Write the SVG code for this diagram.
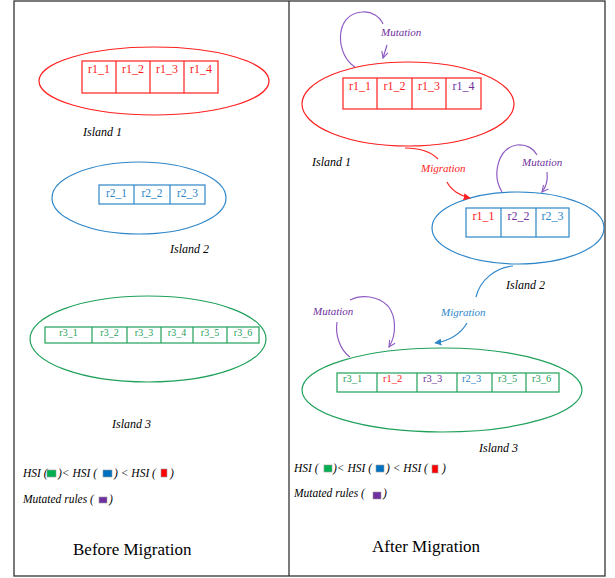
<svg xmlns="http://www.w3.org/2000/svg" width="615" height="578" viewBox="0 0 615 578">
<defs>
<style>
text{font-family:'Liberation Serif','Times New Roman','DejaVu Serif',serif}
.i{font-style:italic}
.red{fill:#ff1a1a}.blue{fill:#2e86c8}.green{fill:#1fa15a}.purple{fill:#7030a0}
.cr{fill:none;stroke:#ff2020;stroke-width:1.2}
.cb{fill:none;stroke:#2e86c8;stroke-width:1.2}
.cg{fill:none;stroke:#1fa15a;stroke-width:1.2}
.mut{fill:none;stroke:#8f5cc4;stroke-width:1.2}
.sq{stroke:#999;stroke-width:0.6}
</style>
<marker id="mv" viewBox="0 0 10 10" refX="9" refY="5" markerWidth="8" markerHeight="8" orient="auto" markerUnits="userSpaceOnUse"><path d="M1,1 L9,5 L1,9" fill="none" stroke="#8f5cc4" stroke-width="1.4"/></marker>
<marker id="ar" viewBox="0 0 10 10" refX="9" refY="5" markerWidth="7" markerHeight="7" orient="auto" markerUnits="userSpaceOnUse"><path d="M0,0 L10,5 L0,10 z" fill="#ff2020"/></marker>
<marker id="ab" viewBox="0 0 10 10" refX="9" refY="5" markerWidth="7" markerHeight="7" orient="auto" markerUnits="userSpaceOnUse"><path d="M0,0 L10,5 L0,10 z" fill="#2e86c8"/></marker>
</defs>
<rect width="615" height="578" fill="#fff"/>
<g id="frame" fill="none" stroke="#333" stroke-width="1.3">
<rect x="14" y="1" width="591" height="575"/>
<line x1="289" y1="1" x2="289" y2="576"/>
</g>

<g id="b-island1">
<ellipse cx="154" cy="81" rx="115" ry="34" class="cr"/>
<rect x="82" y="61" width="136" height="32" class="cr"/>
<path d="M116,61V93M150,61V93M184,61V93" class="cr"/>
<g class="red" font-size="12" text-anchor="middle">
<text x="99" y="73">r1_1</text><text x="133" y="73">r1_2</text><text x="167" y="73">r1_3</text><text x="201" y="73">r1_4</text>
</g>
<text x="83" y="136" class="i" font-size="12">Island 1</text>
</g>
<g id="b-island2">
<ellipse cx="139" cy="198" rx="87" ry="36" class="cb"/>
<rect x="99" y="185" width="106" height="19" class="cb"/>
<path d="M134,185V204M170,185V204" class="cb"/>
<g class="blue" font-size="11.5" text-anchor="middle">
<text x="116.5" y="197">r2_1</text><text x="152" y="197">r2_2</text><text x="187.5" y="197">r2_3</text>
</g>
<text x="170" y="253" class="i" font-size="12">Island 2</text>
</g>
<g id="b-island3">
<ellipse cx="148" cy="339" rx="118" ry="43" class="cg"/>
<rect x="45" y="327" width="214" height="16" class="cg"/>
<path d="M92,327V343M127,327V343M161,327V343M193,327V343M227,327V343" class="cg"/>
<g class="green" font-size="10" text-anchor="middle">
<text x="68.5" y="336">r3_1</text><text x="109.5" y="336">r3_2</text><text x="144" y="336">r3_3</text><text x="177" y="336">r3_4</text><text x="210" y="336">r3_5</text><text x="243" y="336">r3_6</text>
</g>
<text x="112" y="428" class="i" font-size="12">Island 3</text>
</g>
<g id="b-legend" class="i" font-size="11.5">
<text x="23" y="477">HSI (</text>
<rect x="47" y="470" width="9" height="7" fill="#00b050" class="sq"/>
<text x="58" y="477">)&lt; HSI (</text>
<rect x="103" y="470" width="9" height="7" fill="#0070c0" class="sq"/>
<text x="114" y="477">) &lt; HSI (</text>
<rect x="161" y="469" width="6" height="8" fill="#ff0000" class="sq"/>
<text x="170" y="477">)</text>
<text x="23" y="503">Mutated rules (</text>
<rect x="99" y="497" width="8" height="6" fill="#7030a0" class="sq"/>
<text x="109" y="503">)</text>
</g>
<text id="b-title" x="73" y="555" font-size="17">Before Migration</text>

<g id="a-island1">
<ellipse cx="408" cy="104" rx="106" ry="42" class="cr"/>
<rect x="343" y="78" width="138" height="31" class="cr"/>
<path d="M377,78V109M412,78V109M446,78V109" class="cr"/>
<g font-size="12" text-anchor="middle">
<text x="360" y="90" class="red">r1_1</text><text x="394.5" y="90" class="red">r1_2</text><text x="429" y="90" class="red">r1_3</text><text x="463.5" y="90" class="purple">r1_4</text>
</g>
<text x="312" y="166" class="i" font-size="12">Island 1</text>
</g>
<g id="a-island2">
<ellipse cx="518" cy="228" rx="86" ry="36" class="cb"/>
<rect x="466" y="208" width="103" height="29" class="cb"/>
<path d="M501,208V237M536,208V237" class="cb"/>
<g font-size="12" text-anchor="middle">
<text x="483.5" y="220" class="red">r1_1</text><text x="518.5" y="220" class="purple">r2_2</text><text x="552.5" y="220" class="blue">r2_3</text>
</g>
<text x="506" y="289" class="i" font-size="12">Island 2</text>
</g>
<g id="a-island3">
<ellipse cx="442" cy="390" rx="140" ry="42" class="cg"/>
<rect x="337" y="373" width="222" height="19" class="cg"/>
<path d="M377,373V392M417,373V392M457,373V392M492,373V392M526,373V392" class="cg"/>
<g font-size="10.5">
<text x="343" y="382" class="green">r3_1</text><text x="383" y="382" class="red">r1_2</text><text x="423" y="382" class="purple">r3_3</text><text x="462" y="382" class="blue">r2_3</text><text x="498" y="382" class="green">r3_5</text><text x="532" y="382" class="green">r3_6</text>
</g>
<text x="479" y="452" class="i" font-size="12">Island 3</text>
</g>

<g id="connectors">
<path d="M355,67 C336,56 333,14 362,12 C372,11 380,17 383,24" class="mut"/>
<path d="M387,45 L383,58" class="mut" marker-end="url(#mv)"/>
<path d="M502,192 C492,176 497,148 517,145 C527,144 534,149 537,155" class="mut"/>
<path d="M547,172 C548,180 546,187 542,192" class="mut" marker-end="url(#mv)"/>
<path d="M337,322 C335,335 340,350 350,357" class="mut"/>
<path d="M350,300 C362,294 378,296 388,306 C396,316 397,334 389,347" class="mut" marker-end="url(#mv)"/>
<path d="M405,148 C418,148 430,151 438,159" class="cr"/>
<path d="M447,182 C451,190 460,196 470,198" class="cr" marker-end="url(#ar)"/>
<path d="M513,266 C495,268 480,280 476,297" class="cb"/>
<path d="M467,323 C460,335 448,341 435,343" class="cb" marker-end="url(#ab)"/>
<text x="381" y="36" class="i purple" font-size="11">Mutation</text>
<text x="522" y="166" class="i purple" font-size="11">Mutation</text>
<text x="313" y="315" class="i purple" font-size="11">Mutation</text>
<text x="421" y="172" class="i red" font-size="11">Migration</text>
<text x="441" y="316" class="i blue" font-size="11">Migration</text>
</g>

<g id="a-legend" class="i" font-size="11.5">
<text x="294" y="472">HSI (</text>
<rect x="324" y="465" width="8" height="7" fill="#00b050" class="sq"/>
<text x="333" y="472">)&lt; HSI (</text>
<rect x="376" y="465" width="8" height="7" fill="#0070c0" class="sq"/>
<text x="386" y="472">) &lt; HSI (</text>
<rect x="432" y="465" width="6" height="8" fill="#ff0000" class="sq"/>
<text x="442" y="472">)</text>
<text x="294" y="497">Mutated rules (</text>
<rect x="373" y="492" width="8" height="7" fill="#7030a0" class="sq"/>
<text x="383" y="497">)</text>
</g>
<text id="a-title" x="372" y="552" font-size="17">After Migration</text>
</svg>
